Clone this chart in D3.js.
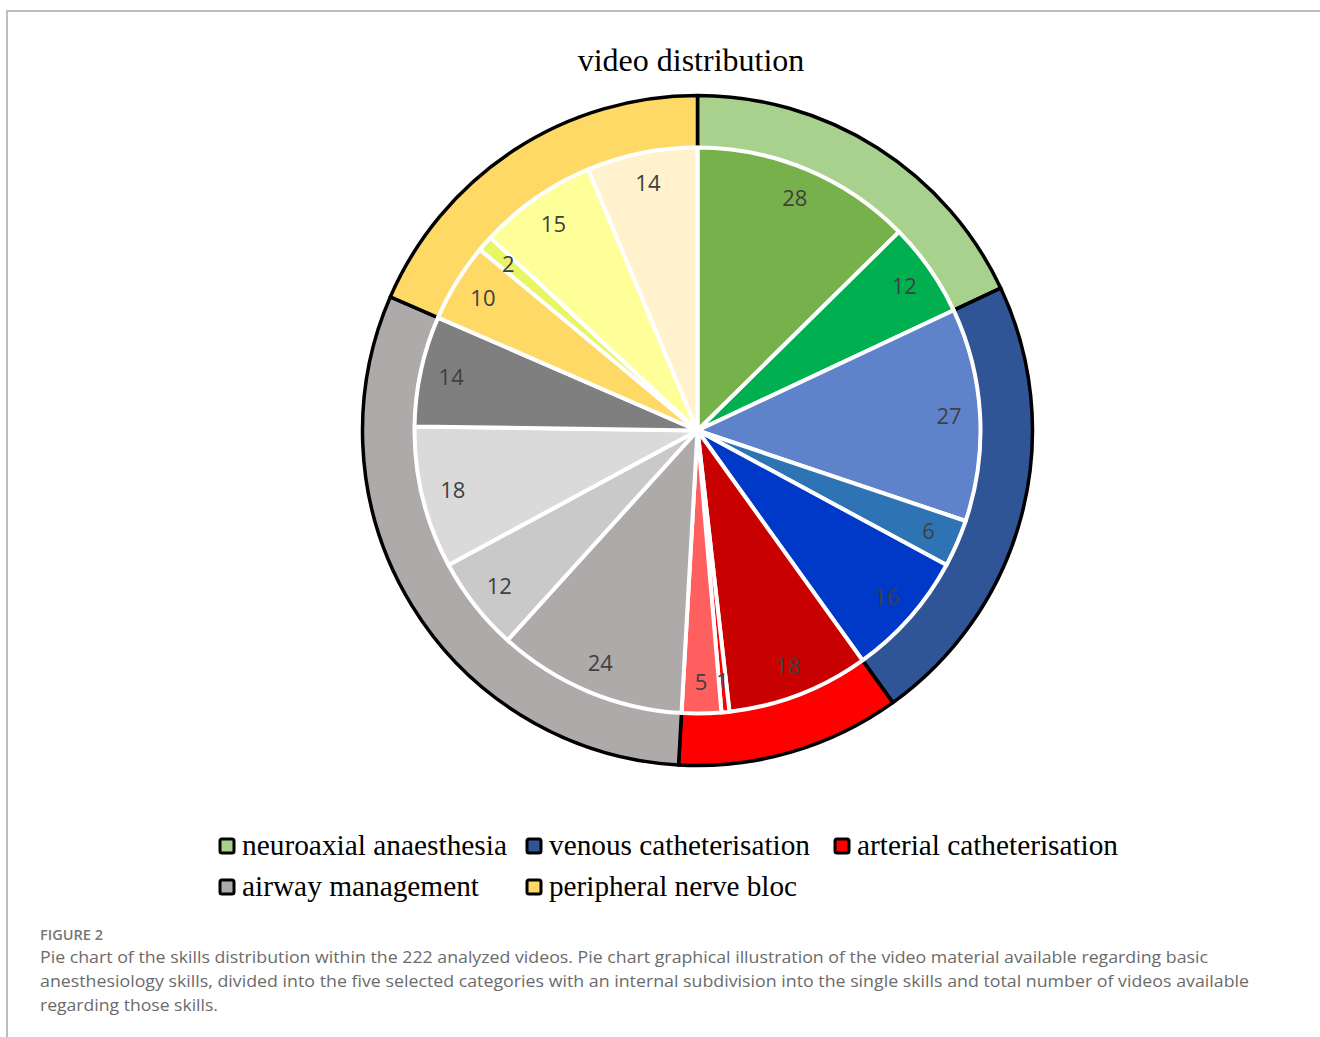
<!DOCTYPE html>
<html>
<head>
<meta charset="utf-8">
<script src="https://cdn.jsdelivr.net/npm/d3@7"></script>
<style>
  html, body { margin: 0; padding: 0; background: #fff; }
  svg { display: block; }
</style>
</head>
<body>
<svg id="chart" width="1320" height="1037"></svg>
<script>
// ---- data ----
const categories = ["neuroaxial anaesthesia", "venous catheterisation", "arterial catheterisation", "airway management", "peripheral nerve bloc"];
const categoryColors = ["#A9D18E", "#2F5597", "#FF0000", "#AEAAAA", "#FFD966"];
const skillCategory = [0, 0, 1, 1, 1, 2, 2, 2, 3, 3, 3, 3, 4, 4, 4, 4];
const skillValues = [28, 12, 27, 6, 16, 18, 1, 5, 24, 12, 18, 14, 10, 2, 15, 14];
const skillColors = ["#77B14B", "#00B050", "#5F83CA", "#2E74B5", "#0039C8", "#C80000", "#FF0000", "#FF5F5F",
                     "#AEAAAA", "#C9C9C9", "#DADADA", "#7F7F7F", "#FFD966", "#E8F565", "#FFFF99", "#FFF2CC"];
const title = "video distribution";
const figureLabel = "FIGURE 2";
const captionLines = [
  "Pie chart of the skills distribution within the 222 analyzed videos. Pie chart graphical illustration of the video material available regarding basic",
  "anesthesiology skills, divided into the five selected categories with an internal subdivision into the single skills and total number of videos available",
  "regarding those skills."
];

// category totals derived from skills
const categoryValues = categories.map((c, i) =>
  d3.sum(skillValues.filter((v, j) => skillCategory[j] === i)));

const svg = d3.select("#chart");

// frame lines
svg.append("line").attr("x1", 7).attr("y1", 11).attr("x2", 1320).attr("y2", 11)
  .attr("stroke", "#bdbdbd").attr("stroke-width", 2);
svg.append("line").attr("x1", 7).attr("y1", 10).attr("x2", 7).attr("y2", 1037)
  .attr("stroke", "#bdbdbd").attr("stroke-width", 2);

// title
svg.append("text").attr("x", 691).attr("y", 71).attr("text-anchor", "middle")
  .attr("font-family", "'Liberation Serif', 'Times New Roman', serif")
  .attr("font-size", 32).attr("fill", "#000").text(title);

const cx = 697.5, cy = 430.5, rOuter = 335, rInner = 283;
const g = svg.append("g").attr("transform", `translate(${cx},${cy})`);

const pie = d3.pie().sort(null).value(d => d);

// outer ring (categories)
const outerArc = d3.arc().innerRadius(0).outerRadius(rOuter);
g.selectAll("path.outer").data(pie(categoryValues)).join("path")
  .attr("class", "outer")
  .attr("d", outerArc)
  .attr("fill", (d, i) => categoryColors[i])
  .attr("stroke", "#000").attr("stroke-width", 3.5).attr("stroke-linejoin", "round");

// inner pie (skills)
const innerArc = d3.arc().innerRadius(0).outerRadius(rInner);
const innerData = pie(skillValues);
g.selectAll("path.inner").data(innerData).join("path")
  .attr("class", "inner")
  .attr("d", innerArc)
  .attr("fill", (d, i) => skillColors[i])
  .attr("stroke", "#fff").attr("stroke-width", 4).attr("stroke-linejoin", "round");

// labels
const labelArc = d3.arc().innerRadius(252).outerRadius(252);
g.selectAll("text.lbl").data(innerData).join("text")
  .attr("class", "lbl")
  .attr("transform", d => `translate(${labelArc.centroid(d)})`)
  .attr("text-anchor", "middle").attr("dy", "0.36em")
  .attr("font-family", "'Open Sans', 'Lato', sans-serif")
  .attr("font-size", 22).attr("fill", "#404040")
  .text(d => d.data);

// legend
const legendPos = [[220, 847], [527, 847], [835, 847], [220, 888], [527, 888]];
const legendWidths = [265, 261, 261, 237, 248];
const leg = svg.append("g");
categories.forEach((c, i) => {
  const [x, y] = legendPos[i];
  leg.append("rect").attr("x", x).attr("y", y - 8).attr("width", 14).attr("height", 14)
    .attr("rx", 2).attr("fill", categoryColors[i]).attr("stroke", "#000").attr("stroke-width", 3);
  leg.append("text").attr("x", x + 22).attr("y", y + 8)
    .attr("font-family", "'Liberation Serif', 'Times New Roman', serif")
    .attr("font-size", 28.5).attr("fill", "#000")
    .attr("textLength", legendWidths[i]).attr("lengthAdjust", "spacingAndGlyphs")
    .text(c);
});

// caption
svg.append("text").attr("x", 40).attr("y", 940)
  .attr("font-family", "'Open Sans', sans-serif").attr("font-size", 14).attr("font-weight", 600)
  .attr("fill", "#777").attr("textLength", 63).attr("lengthAdjust", "spacingAndGlyphs")
  .text(figureLabel);
const captionWidths = [1168, 1209, 178];
captionLines.forEach((t, i) => {
  svg.append("text").attr("x", 40).attr("y", 963 + i * 24)
    .attr("font-family", "'Open Sans', sans-serif").attr("font-size", 17)
    .attr("fill", "#6b6b6b")
    .attr("textLength", captionWidths[i]).attr("lengthAdjust", "spacingAndGlyphs")
    .text(t);
});
</script>
</body>
</html>
